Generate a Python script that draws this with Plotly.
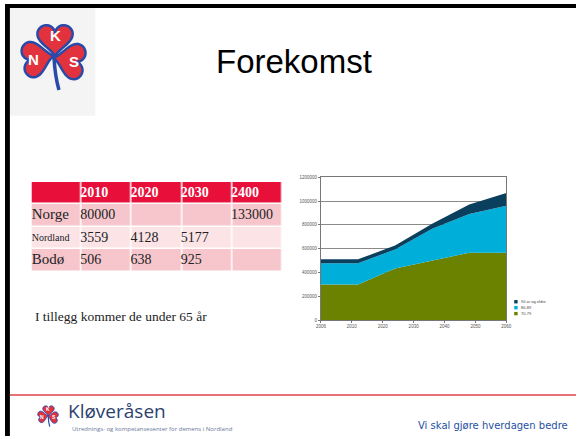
import math
import plotly.graph_objects as go

W, H = 582, 439

# ---------------- data ----------------
tick_years = ["2006", "2010", "2020", "2030", "2040", "2050", "2060"]
point_index = [0, 1, 2, 3, 4, 5]
age_groups = ["70-79", "80-89", "90 år og eldre"]
v_70_79 = [298000, 298000, 433000, 499000, 566000, 566000]
v_80_89 = [179000, 179000, 160000, 268000, 325000, 394000]
v_90_plus = [33000, 33000, 33000, 42000, 80000, 108000]
y_tick_vals = [0, 200000, 400000, 600000, 800000, 1000000, 1200000]

table_header = ["", "2010", "2020", "2030", "2400"]
regions = ["Norge", "Nordland", "Bodø"]
col_2010 = ["80000", "3559", "506"]
col_2020 = ["", "4128", "638"]
col_2030 = ["", "5177", "925"]
col_2400 = ["133000", "", ""]

# ---------------- styling ----------------
C_GREEN = "#6a8200"
C_CYAN = "#00afd9"
C_NAVY = "#0b3f5e"
series_colors = [C_GREEN, C_CYAN, C_NAVY]
series_values = [v_70_79, v_80_89, v_90_plus]
RED = "#e8103b"
PINK1 = "#f6c6cc"
PINK2 = "#fbe3e6"
BLUE_LOGO = "#2a4aa8"
RED_LOGO = "#e2323d"


def X(px):
    return px / W


def Y(py):
    return 1 - py / H


fig = go.Figure()

# ---------------- stacked area chart ----------------
for name, vals, col in zip(age_groups, series_values, series_colors):
    fig.add_trace(go.Scatter(
        x=point_index, y=vals, name=name, stackgroup="one",
        mode="lines", line=dict(width=0, color=col), fillcolor=col,
        xaxis="x", yaxis="y", showlegend=False, hoverinfo="skip"))

fig.add_trace(go.Scatter(x=[0, 6], y=[None, None], xaxis="x2", yaxis="y",
                         showlegend=False, hoverinfo="skip", mode="markers"))

# ---------------- table (heatmap cells + text) ----------------
table_columns = [regions, col_2010, col_2020, col_2030, col_2400]
n_cols = len(table_header)
n_rows = len(regions) + 1
row_style = [0] + [1 if i % 2 == 0 else 2 for i in range(len(regions))]
z = [[row_style[r]] * n_cols for r in range(n_rows)]
fig.add_trace(go.Heatmap(
    z=z, x=list(range(n_cols)), y=list(range(n_rows)), xaxis="x3", yaxis="y3",
    colorscale=[[0, RED], [0.5, PINK1], [1, PINK2]], zmin=0, zmax=2,
    showscale=False, xgap=1.5, ygap=1.5, hoverinfo="skip"))

tx, ty, tt, tsize, tcolor = [], [], [], [], []
for c in range(n_cols):
    x_text = c - 0.53 if c > 0 else -0.495
    if table_header[c]:
        tx.append(x_text)
        ty.append(0)
        tt.append("<b>%s</b>" % table_header[c])
        tsize.append(14)
        tcolor.append("white")
    for r, val in enumerate(table_columns[c]):
        if val == "":
            continue
        tx.append(x_text)
        ty.append(r + 1)
        tt.append(val)
        if c == 0:
            tsize.append(15 if len(val) < 7 else 10)
        else:
            tsize.append(14)
        tcolor.append("#222222")
fig.add_trace(go.Scatter(
    x=tx, y=ty, text=tt, mode="text", textposition="middle right",
    textfont=dict(family="Liberation Serif", size=tsize, color=tcolor),
    xaxis="x3", yaxis="y3", showlegend=False, hoverinfo="skip", cliponaxis=False))

shapes = []
annotations = []

# slide frame
shapes.append(dict(type="rect", xref="paper", yref="paper", x0=X(0), x1=X(5), y0=Y(439), y1=Y(2),
                   fillcolor="black", line=dict(width=0), layer="above"))
shapes.append(dict(type="rect", xref="paper", yref="paper", x0=X(0), x1=X(582), y0=Y(6), y1=Y(2),
                   fillcolor="black", line=dict(width=0), layer="above"))
# logo box
shapes.append(dict(type="rect", xref="paper", yref="paper", x0=X(5), x1=X(92), y0=Y(115), y1=Y(6),
                   fillcolor="#f4f4f4", line=dict(width=0), layer="below"))
# red footer line
shapes.append(dict(type="line", xref="paper", yref="paper", x0=X(5), x1=X(582), y0=Y(397.5), y1=Y(397.5),
                   line=dict(color="#e0424c", width=1.5)))


def heart_path(cx, cy, size, rot_deg):
    s = size / 32.0
    a = math.radians(rot_deg)
    pts = []
    for i in range(72):
        t = 2 * math.pi * i / 72
        hx = 16 * math.sin(t) ** 3
        hy = 13 * math.cos(t) - 5 * math.cos(2 * t) - 2 * math.cos(3 * t) - math.cos(4 * t)
        hy -= 2.5
        rx = hx * math.cos(a) - hy * math.sin(a)
        ry = hx * math.sin(a) + hy * math.cos(a)
        pts.append((X(cx + rx * s), Y(cy - ry * s)))
    return "M " + " L ".join("%.5f,%.5f" % p for p in pts) + " Z"


def clover(ox, oy, sc, letters_size, outline):
    stem = "M %.5f,%.5f Q %.5f,%.5f %.5f,%.5f" % (
        X(ox), Y(oy + 4 * sc), X(ox + 1 * sc), Y(oy + 22 * sc), X(ox + 5 * sc), Y(oy + 36 * sc))
    shapes.append(dict(type="path", xref="paper", yref="paper", path=stem,
                       line=dict(color=BLUE_LOGO, width=max(1.2, 3.5 * sc))))
    leaves = [(1, -19, 0, "K"), (-21, 5, 100, "N"), (20, 7, -100, "S")]
    for dx, dy, rot, letter in leaves:
        cx, cy = ox + dx * sc, oy + dy * sc
        shapes.append(dict(type="path", xref="paper", yref="paper",
                           path=heart_path(cx, cy, 36 * sc, rot),
                           fillcolor=RED_LOGO, line=dict(color=BLUE_LOGO, width=outline)))
        annotations.append(dict(x=X(cx), y=Y(cy), xref="paper", yref="paper", text="<b>%s</b>" % letter,
                                showarrow=False, xanchor="center", yanchor="middle",
                                font=dict(family="Liberation Sans", size=letters_size, color="white")))


clover(50, 53, 1.0, 15, 2.5)
clover(44, 418, 0.32, 5, 1)

# title
annotations.append(dict(x=X(295), y=Y(60), xref="paper", yref="paper", text="Forekomst", showarrow=False,
                        xanchor="center", yanchor="middle",
                        font=dict(family="Liberation Sans", size=33, color="black")))

# note under table
annotations.append(dict(x=X(29), y=Y(318), xref="paper", yref="paper", text="I tillegg kommer de under 65 år",
                        showarrow=False, xanchor="left", yanchor="middle",
                        font=dict(family="Liberation Serif", size=13.5, color="#222222")))

# footer text
annotations.append(dict(x=X(62), y=Y(414), xref="paper", yref="paper", text="Kløveråsen", showarrow=False,
                        xanchor="left", yanchor="middle",
                        font=dict(family="Open Sans", size=19, color="#2e3f70")))
annotations.append(dict(x=X(66), y=Y(432), xref="paper", yref="paper",
                        text="Utrednings- og kompetansesenter for demens i Nordland", showarrow=False,
                        xanchor="left", yanchor="middle",
                        font=dict(family="Open Sans", size=6, color="#6a7a9a")))
annotations.append(dict(x=X(419), y=Y(428), xref="paper", yref="paper",
                        text="Vi skal gjøre hverdagen bedre", showarrow=False,
                        xanchor="left", yanchor="middle",
                        font=dict(family="DejaVu Sans", size=10, color="#1f4fa3")))

# chart legend (manual, tiny)
leg_rows = [(303.2, 2), (309.2, 1), (315.2, 0)]
for py, idx in leg_rows:
    shapes.append(dict(type="rect", xref="paper", yref="paper", x0=X(519), x1=X(522.5),
                       y0=Y(py + 1.7), y1=Y(py - 1.7), fillcolor=series_colors[idx], line=dict(width=0)))
    annotations.append(dict(x=X(524), y=Y(py), xref="paper", yref="paper", text=age_groups[idx],
                            showarrow=False, xanchor="left", yanchor="middle",
                            font=dict(family="Liberation Sans", size=4, color="#444444")))

axis_font = dict(family="Liberation Sans", size=4.5, color="#555555")
fig.update_layout(
    width=W, height=H, margin=dict(l=0, r=0, t=0, b=0),
    paper_bgcolor="white", plot_bgcolor="white",
    showlegend=False,
    xaxis=dict(domain=[X(322), X(511)], range=[0, 5], visible=False, fixedrange=True),
    xaxis2=dict(domain=[X(322), X(511)], range=[0, 6], overlaying="x", anchor="y", side="bottom",
                tickmode="array", tickvals=list(range(len(tick_years))), ticktext=tick_years,
                showgrid=False, zeroline=False, showline=True, linecolor="#777777", linewidth=1,
                mirror=True, ticks="outside", ticklen=2, tickcolor="#777777", tickfont=axis_font),
    yaxis=dict(domain=[Y(321.7), Y(177.3)], range=[0, 1200000], tickmode="array",
               tickvals=y_tick_vals, ticktext=[str(v) for v in y_tick_vals],
               showgrid=True, gridcolor="#8a8a8a", gridwidth=1, zeroline=False,
               showline=True, linecolor="#777777", linewidth=1, mirror=True,
               ticks="outside", ticklen=2, tickcolor="#777777", tickfont=axis_font),
    xaxis3=dict(domain=[X(27), X(283)], range=[-0.5, n_cols - 0.5], visible=False, anchor="y3"),
    yaxis3=dict(domain=[Y(273), Y(182)], range=[n_rows - 0.5, -0.5], visible=False, anchor="x3"),
    shapes=shapes, annotations=annotations,
)

fig.write_html("out.html", config={"displayModeBar": False},
               post_script="document.body.style.margin='0';")
